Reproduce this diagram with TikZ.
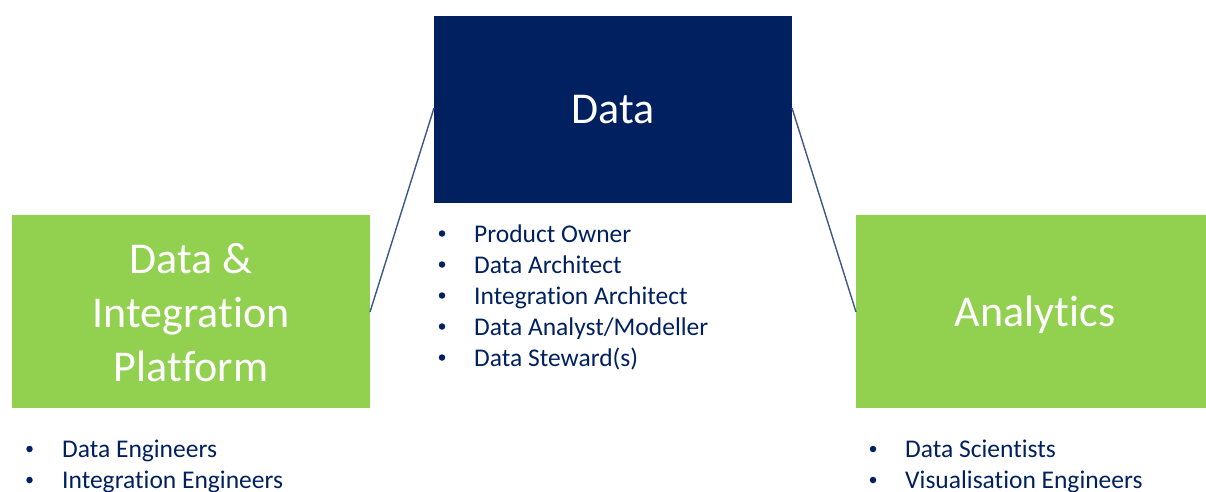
\documentclass[tikz,border=0pt]{standalone}
\usepackage{fontspec}
\setmainfont{Carlito}[RawFeature={-liga;-clig;-calt;-dlig}]
\definecolor{navy}{HTML}{002060}
\definecolor{leaf}{HTML}{92D050}
\definecolor{link}{HTML}{3E5686}
\begin{document}
\begin{tikzpicture}[x=1pt,y=-1pt,
  box/.style={draw=none,inner sep=0pt,text=white,align=center,
    font=\fontsize{44}{54}\selectfont},
  item/.style={anchor=base west,inner sep=0pt,text=navy,
    font=\fontsize{25.5}{31}\selectfont},
  dot/.style={circle,fill=navy,inner sep=0pt,minimum size=6.5pt},
  link/.style={draw=link,line width=1.4pt}]
  \useasboundingbox (0,0) rectangle (1206,492);
  % coloured boxes
  \fill[navy] (434,16) rectangle (792,203);
  \fill[leaf] (12,215) rectangle (370,408);
  \fill[leaf] (856,215) rectangle (1206,408);
  \node[box] (data) at (613,109.5) {Data};
  \node[box] (dip) at (191,313) {Data \&\\Integration\\Platform};
  \node[box] (ana) at (1035,315) {Analytics};
  % connectors
  \coordinate (dipE) at (370,312);
  \coordinate (dataW) at (434,108);
  \coordinate (dataE) at (792,108);
  \coordinate (anaW) at (856,312);
  \draw[link] (dipE) -- (dataW);
  \draw[link] (dataE) -- (anaW);
  % roles under Data
  \foreach \t [count=\i from 0] in {Product Owner,Data Architect,Integration Architect,Data Analyst/Modeller,Data Steward(s)} {
    \node[dot] (db\i) at (442,233.5+31*\i) {};
    \node[item] (dt\i) at (474,242+31*\i) {\t};
  }
  % roles under the platform box
  \foreach \t [count=\i from 0] in {Data Engineers,Integration Engineers} {
    \node[dot] (lb\i) at (29.5,449+31*\i) {};
    \node[item] (lt\i) at (62,457+31*\i) {\t};
  }
  % roles under Analytics
  \foreach \t [count=\i from 0] in {Data Scientists,Visualisation Engineers} {
    \node[dot] (rb\i) at (873,449+31*\i) {};
    \node[item] (rt\i) at (905,457+31*\i) {\t};
  }
\end{tikzpicture}
\end{document}
